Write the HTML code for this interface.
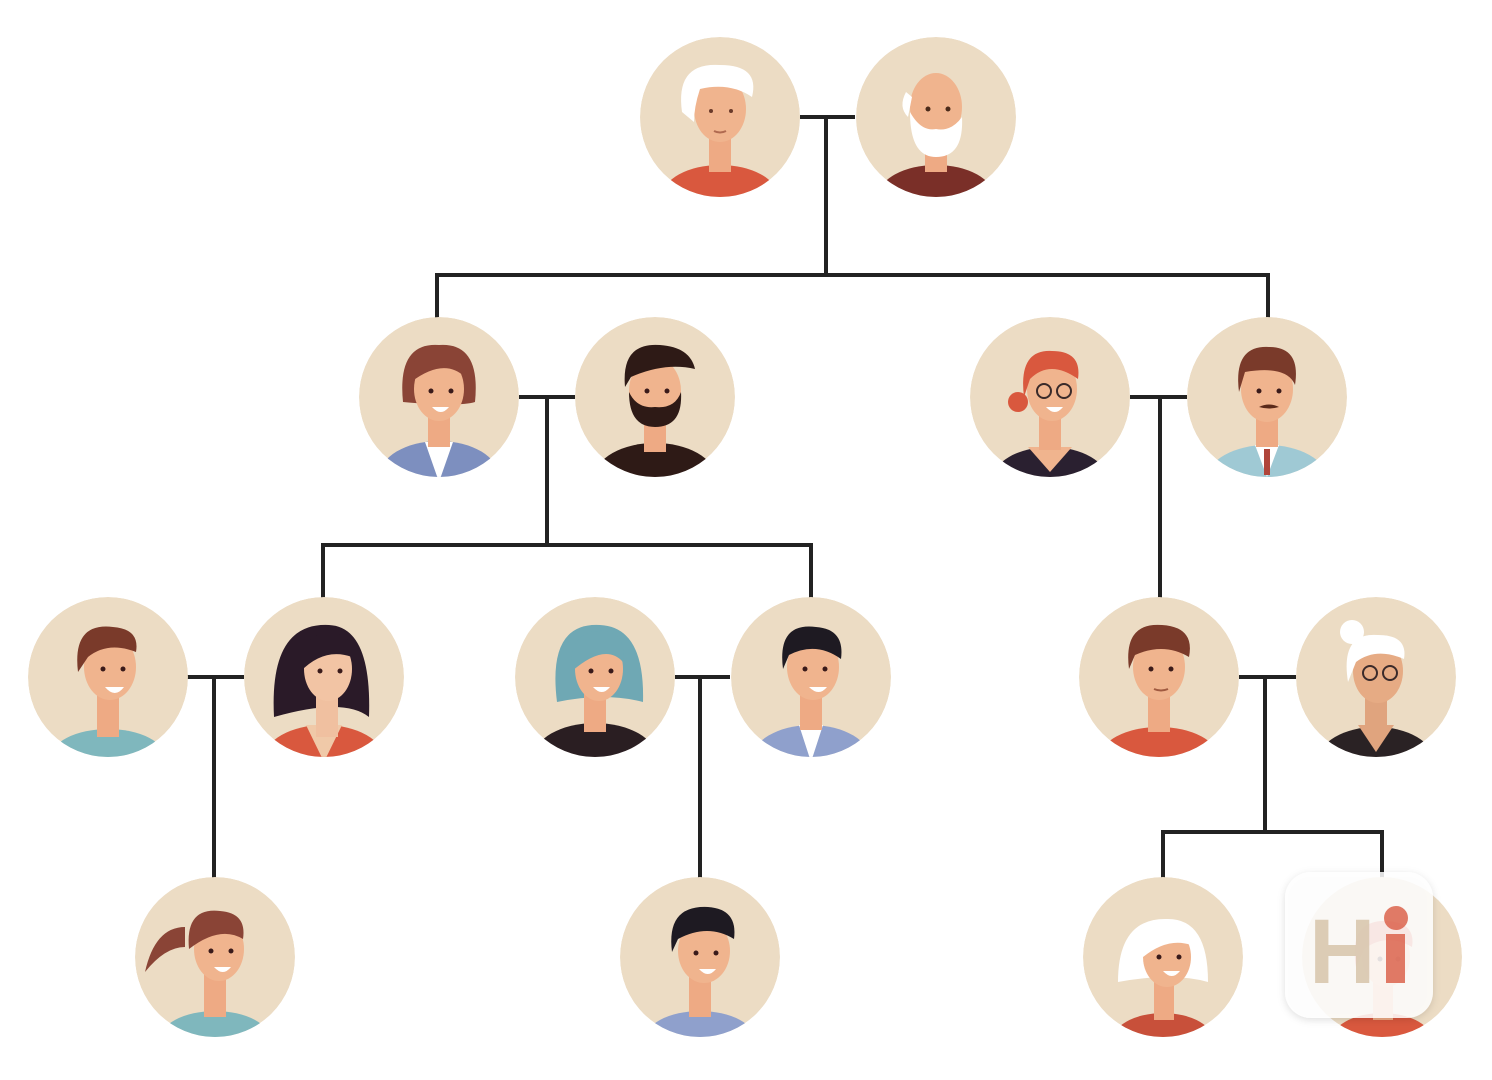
<!DOCTYPE html>
<html><head><meta charset="utf-8"><style>
html,body{margin:0;padding:0;background:#fff;width:1492px;height:1080px;overflow:hidden}
</style></head><body>
<svg width="1492" height="1080" viewBox="0 0 1492 1080" xmlns="http://www.w3.org/2000/svg">
<defs>
<clipPath id="c"><circle cx="0" cy="0" r="80"/></clipPath>
<filter id="sh" x="-20%" y="-20%" width="140%" height="140%"><feDropShadow dx="0" dy="2" stdDeviation="4" flood-color="#000" flood-opacity="0.15"/></filter>
</defs>
<g stroke="#222" stroke-width="4" fill="none">
<!-- gen1 -->
<path d="M800 117 H855 M826 117 V275 M437 275 H1268 M437 273 V320 M1268 273 V320"/>
<!-- left couple -->
<path d="M519 397 H575 M547 397 V545 M323 545 H811 M323 543 V598 M811 543 V598"/>
<!-- right couple -->
<path d="M1130 397 H1187 M1160 397 V598"/>
<!-- row3 -->
<path d="M187 677 H244 M214 677 V878"/>
<path d="M675 677 H730 M700 677 V878"/>
<path d="M1239 677 H1296 M1265 677 V832 M1163 832 H1382 M1163 830 V878 M1382 830 V878"/>
</g>

<!-- Avatar macro: bg, shirt, neck, hair back, head, hair top, face -->
<!-- 1 grandma -->
<g transform="translate(720,117)"><g clip-path="url(#c)">
<circle r="80" fill="#ecdcc4"/>
<ellipse cx="0" cy="80" rx="58" ry="32" fill="#d9583e"/>
<rect x="-11" y="15" width="22" height="40" fill="#eeaa84"/>
<ellipse cx="0" cy="-8" rx="26" ry="33" fill="#f0b48e"/>
<path d="M-38 -5 Q-45 -55 0 -52 Q40 -52 32 -20 Q10 -35 -20 -28 Q-26 -10 -26 5 Z" fill="#fff"/>
<circle cx="-9" cy="-6" r="2" fill="#6a3a2a"/><circle cx="11" cy="-6" r="2" fill="#6a3a2a"/>
<path d="M-6 14 Q0 17 6 14" stroke="#b06a50" stroke-width="2" fill="none"/>
</g></g>
<!-- 2 grandpa -->
<g transform="translate(936,117)"><g clip-path="url(#c)">
<circle r="80" fill="#ecdcc4"/>
<ellipse cx="0" cy="80" rx="58" ry="32" fill="#7a2f28"/>
<rect x="-11" y="15" width="22" height="40" fill="#eeaa84"/>
<ellipse cx="0" cy="-10" rx="26" ry="34" fill="#f0b48e"/>
<path d="M-26 -5 Q-26 40 0 40 Q28 40 26 0 Q15 15 0 12 Q-15 15 -26 -5 Z" fill="#fff"/>
<path d="M-30 -25 Q-38 -10 -28 0 L-24 -20 Z" fill="#fff"/>
<circle cx="-8" cy="-8" r="2.5" fill="#4a2a1a"/><circle cx="12" cy="-8" r="2.5" fill="#4a2a1a"/>
</g></g>
<!-- 3 mother left -->
<g transform="translate(439,397)"><g clip-path="url(#c)">
<circle r="80" fill="#ecdcc4"/>
<ellipse cx="0" cy="80" rx="60" ry="36" fill="#7d8fbf"/>
<path d="M-14 45 L0 85 L14 45 Z" fill="#fff"/>
<rect x="-11" y="15" width="22" height="35" fill="#eeaa84"/>
<path d="M-36 5 Q-42 -55 0 -52 Q42 -55 36 5 Q20 10 -36 5 Z" fill="#8a4436"/>
<ellipse cx="0" cy="-8" rx="25" ry="32" fill="#f0b48e"/>
<path d="M-28 -15 Q-30 -48 0 -46 Q30 -46 26 -20 Q5 -40 -28 -15 Z" fill="#8a4436"/>
<circle cx="-8" cy="-6" r="2.5" fill="#3a1a1a"/><circle cx="12" cy="-6" r="2.5" fill="#3a1a1a"/>
<path d="M-7 10 Q2 20 10 10 Z" fill="#fff"/>
</g></g>
<!-- 4 bearded father -->
<g transform="translate(655,397)"><g clip-path="url(#c)">
<circle r="80" fill="#ecdcc4"/>
<ellipse cx="0" cy="80" rx="60" ry="34" fill="#2e1a16"/>
<rect x="-11" y="15" width="22" height="40" fill="#eeaa84"/>
<ellipse cx="0" cy="-6" rx="26" ry="33" fill="#f0b48e"/>
<path d="M-26 -5 Q-26 30 0 30 Q28 30 26 -5 Q20 12 0 10 Q-18 12 -26 -5 Z" fill="#2e1a16"/>
<path d="M-30 -10 Q-34 -55 5 -52 Q35 -50 40 -28 Q10 -35 -24 -20 Z" fill="#2e1a16"/>
<circle cx="-8" cy="-6" r="2.5" fill="#3a1a1a"/><circle cx="12" cy="-6" r="2.5" fill="#3a1a1a"/>
</g></g>
<!-- 5 red-haired woman glasses -->
<g transform="translate(1050,397)"><g clip-path="url(#c)">
<circle r="80" fill="#ecdcc4"/>
<ellipse cx="0" cy="84" rx="58" ry="34" fill="#2a2030"/>
<path d="M-22 50 L0 75 L22 50 Z" fill="#f0b48e"/>
<rect x="-11" y="15" width="22" height="38" fill="#eeaa84"/>
<circle cx="-32" cy="5" r="10" fill="#d9583e"/>
<ellipse cx="2" cy="-8" rx="25" ry="32" fill="#f0b48e"/>
<path d="M-26 0 Q-32 -48 2 -46 Q32 -46 28 -18 Q0 -38 -20 -18 Z" fill="#d9583e"/>
<circle cx="-6" cy="-6" r="7" stroke="#3a2a2a" stroke-width="2" fill="none"/><circle cx="14" cy="-6" r="7" stroke="#3a2a2a" stroke-width="2" fill="none"/>
<path d="M-4 10 Q5 20 13 10 Z" fill="#fff"/>
</g></g>
<!-- 6 mustache man suit -->
<g transform="translate(1267,397)"><g clip-path="url(#c)">
<circle r="80" fill="#ecdcc4"/>
<ellipse cx="0" cy="82" rx="60" ry="34" fill="#9fc9d4"/>
<path d="M-12 48 L0 80 L12 48 Z" fill="#fff"/>
<rect x="-3" y="52" width="6" height="26" fill="#b0453a"/>
<rect x="-11" y="15" width="22" height="35" fill="#eeaa84"/>
<ellipse cx="0" cy="-8" rx="26" ry="33" fill="#f0b48e"/>
<path d="M-28 -5 Q-34 -52 2 -50 Q34 -50 28 -12 Q20 -32 -22 -25 Z" fill="#7a3a2a"/>
<circle cx="-8" cy="-6" r="2.5" fill="#3a1a1a"/><circle cx="12" cy="-6" r="2.5" fill="#3a1a1a"/>
<path d="M-8 10 Q2 5 12 10 Q2 13 -8 10Z" fill="#5a2a1a"/>
</g></g>
<!-- row3 -->
<!-- 7 boy -->
<g transform="translate(108,677)"><g clip-path="url(#c)">
<circle r="80" fill="#ecdcc4"/>
<ellipse cx="0" cy="82" rx="58" ry="30" fill="#7fb7bd"/>
<rect x="-11" y="15" width="22" height="45" fill="#eeaa84"/>
<ellipse cx="2" cy="-10" rx="26" ry="33" fill="#f0b48e"/>
<path d="M-30 -5 Q-36 -55 5 -50 Q32 -48 28 -25 Q0 -36 -20 -20 Z" fill="#7a3a2a"/>
<circle cx="-5" cy="-8" r="2.5" fill="#3a1a1a"/><circle cx="15" cy="-8" r="2.5" fill="#3a1a1a"/>
<path d="M-3 10 Q7 22 16 10 Z" fill="#fff"/>
</g></g>
<!-- 8 long-haired woman -->
<g transform="translate(324,677)"><g clip-path="url(#c)">
<circle r="80" fill="#ecdcc4"/>
<ellipse cx="0" cy="82" rx="60" ry="34" fill="#d9583e"/>
<path d="M-18 48 L0 85 L18 48 Z" fill="#f0c9a8"/>
<path d="M-50 40 Q-55 -55 5 -52 Q48 -50 45 40 Q20 20 -50 40 Z" fill="#2a1a28"/>
<rect x="-8" y="15" width="22" height="45" fill="#f0c0a0"/>
<ellipse cx="4" cy="-8" rx="24" ry="32" fill="#f2c4a4"/>
<path d="M-24 -5 Q-22 -48 10 -44 Q30 -40 28 -20 Q0 -30 -24 -5 Z" fill="#2a1a28"/>
<circle cx="-4" cy="-6" r="2.5" fill="#3a1a1a"/><circle cx="16" cy="-6" r="2.5" fill="#3a1a1a"/>
</g></g>
<!-- 9 teal hair woman -->
<g transform="translate(595,677)"><g clip-path="url(#c)">
<circle r="80" fill="#ecdcc4"/>
<ellipse cx="0" cy="82" rx="62" ry="36" fill="#2a1e22"/>
<path d="M-38 25 Q-48 -55 5 -52 Q50 -50 48 25 Q10 15 -38 25 Z" fill="#6fa8b4"/>
<rect x="-11" y="15" width="22" height="40" fill="#eeaa84"/>
<ellipse cx="4" cy="-8" rx="24" ry="32" fill="#f0b48e"/>
<path d="M-24 -5 Q-26 -48 8 -46 Q32 -44 28 -15 Q10 -35 -24 -5 Z" fill="#6fa8b4"/>
<circle cx="-4" cy="-6" r="2.5" fill="#3a1a1a"/><circle cx="16" cy="-6" r="2.5" fill="#3a1a1a"/>
<path d="M-2 10 Q7 20 15 10 Z" fill="#fff"/>
</g></g>
<!-- 10 man suit blue -->
<g transform="translate(811,677)"><g clip-path="url(#c)">
<circle r="80" fill="#ecdcc4"/>
<ellipse cx="0" cy="84" rx="60" ry="36" fill="#8fa0cc"/>
<path d="M-12 48 L0 85 L12 48 Z" fill="#fff"/>
<rect x="-11" y="15" width="22" height="38" fill="#eeaa84"/>
<ellipse cx="2" cy="-10" rx="26" ry="33" fill="#f0b48e"/>
<path d="M-28 -8 Q-34 -55 5 -50 Q34 -48 30 -18 Q5 -36 -22 -22 Z" fill="#1e1a22"/>
<circle cx="-6" cy="-8" r="2.5" fill="#3a1a1a"/><circle cx="14" cy="-8" r="2.5" fill="#3a1a1a"/>
<path d="M-2 10 Q8 20 16 10 Z" fill="#fff"/>
</g></g>
<!-- 11 man red shirt -->
<g transform="translate(1159,677)"><g clip-path="url(#c)">
<circle r="80" fill="#ecdcc4"/>
<ellipse cx="0" cy="82" rx="60" ry="32" fill="#d9583e"/>
<rect x="-11" y="15" width="22" height="40" fill="#eeaa84"/>
<ellipse cx="0" cy="-10" rx="26" ry="33" fill="#f0b48e"/>
<path d="M-30 -8 Q-36 -55 3 -52 Q36 -50 30 -20 Q5 -35 -24 -22 Z" fill="#7a3a2a"/>
<circle cx="-8" cy="-8" r="2.5" fill="#3a1a1a"/><circle cx="12" cy="-8" r="2.5" fill="#3a1a1a"/>
<path d="M-5 12 Q2 15 9 12" stroke="#a05a40" stroke-width="2" fill="none"/>
</g></g>
<!-- 12 old lady glasses -->
<g transform="translate(1376,677)"><g clip-path="url(#c)">
<circle r="80" fill="#ecdcc4"/>
<ellipse cx="0" cy="84" rx="58" ry="34" fill="#2a2224"/>
<path d="M-18 48 L0 75 L18 48 Z" fill="#e0a47e"/>
<rect x="-11" y="15" width="22" height="38" fill="#e0a47e"/>
<ellipse cx="2" cy="-6" rx="25" ry="32" fill="#e6ab84"/>
<path d="M-28 5 Q-36 -45 2 -42 Q32 -42 28 -18 Q0 -30 -20 -15 Z" fill="#fff"/>
<circle cx="-24" cy="-45" r="12" fill="#fff"/>
<circle cx="-6" cy="-4" r="7" stroke="#3a2a2a" stroke-width="2" fill="none"/><circle cx="14" cy="-4" r="7" stroke="#3a2a2a" stroke-width="2" fill="none"/>
</g></g>
<!-- row4 -->
<!-- 13 ponytail girl -->
<g transform="translate(215,957)"><g clip-path="url(#c)">
<circle r="80" fill="#ecdcc4"/>
<ellipse cx="0" cy="84" rx="56" ry="30" fill="#7fb7bd"/>
<rect x="-11" y="15" width="22" height="45" fill="#eeaa84"/>
<path d="M-30 -30 Q-60 -30 -70 15 Q-50 -10 -30 -10 Z" fill="#8a4436"/>
<ellipse cx="4" cy="-8" rx="25" ry="32" fill="#f0b48e"/>
<path d="M-26 -8 Q-30 -50 5 -46 Q32 -44 28 -18 Q5 -32 -26 -8 Z" fill="#8a4436"/>
<circle cx="-4" cy="-6" r="2.5" fill="#3a1a1a"/><circle cx="16" cy="-6" r="2.5" fill="#3a1a1a"/>
<path d="M-1 10 Q8 20 16 10 Z" fill="#fff"/>
</g></g>
<!-- 14 boy dark hair -->
<g transform="translate(700,957)"><g clip-path="url(#c)">
<circle r="80" fill="#ecdcc4"/>
<ellipse cx="0" cy="84" rx="56" ry="30" fill="#8fa0cc"/>
<rect x="-11" y="15" width="22" height="45" fill="#eeaa84"/>
<ellipse cx="4" cy="-6" rx="26" ry="32" fill="#f0b48e"/>
<path d="M-28 -5 Q-34 -52 8 -50 Q38 -48 34 -18 Q8 -34 -22 -18 Z" fill="#1e1a22"/>
<circle cx="-4" cy="-4" r="2.5" fill="#3a1a1a"/><circle cx="16" cy="-4" r="2.5" fill="#3a1a1a"/>
<path d="M-1 12 Q8 22 16 12 Z" fill="#fff"/>
</g></g>
<!-- 15 white-haired girl -->
<g transform="translate(1163,957)"><g clip-path="url(#c)">
<circle r="80" fill="#ecdcc4"/>
<ellipse cx="0" cy="86" rx="52" ry="30" fill="#c8503a"/>
<path d="M-45 25 Q-45 -40 5 -38 Q45 -38 45 25 Q10 15 -45 25 Z" fill="#fff"/>
<rect x="-9" y="18" width="20" height="45" fill="#eeaa84"/>
<ellipse cx="4" cy="0" rx="24" ry="30" fill="#f0b48e"/>
<path d="M-20 0 Q-24 -34 8 -32 Q30 -30 28 -12 Q5 -20 -20 0 Z" fill="#fff"/>
<circle cx="-4" cy="0" r="2.5" fill="#3a1a1a"/><circle cx="16" cy="0" r="2.5" fill="#3a1a1a"/>
<path d="M0 14 Q9 24 17 14 Z" fill="#fff"/>
</g></g>
<!-- 16 red-haired kid -->
<g transform="translate(1382,957)"><g clip-path="url(#c)">
<circle r="80" fill="#ecdcc4"/>
<ellipse cx="0" cy="86" rx="52" ry="30" fill="#d9583e"/>
<rect x="-9" y="18" width="20" height="45" fill="#eeaa84"/>
<ellipse cx="4" cy="0" rx="24" ry="30" fill="#f0b48e"/>
<path d="M-26 10 Q-34 -38 6 -36 Q34 -34 30 -10 Q5 -25 -18 -8 Z" fill="#d9583e"/>
<circle cx="-2" cy="2" r="2.5" fill="#3a1a1a"/><circle cx="16" cy="2" r="2.5" fill="#3a1a1a"/>
</g></g>
<!-- watermark -->
<g filter="url(#sh)">
<rect x="1285" y="872" width="148" height="146" rx="26" fill="#fff" fill-opacity="0.85"/>
</g>
<text x="1309" y="983" font-family="Liberation Sans, sans-serif" font-weight="bold" font-size="92" fill="#d8c6ae" fill-opacity="0.9">H</text>
<rect x="1386" y="934" width="19" height="49" fill="#d95a42" fill-opacity="0.8"/>
<circle cx="1396" cy="918" r="12" fill="#d95a42" fill-opacity="0.8"/>
</svg>
</body></html>
